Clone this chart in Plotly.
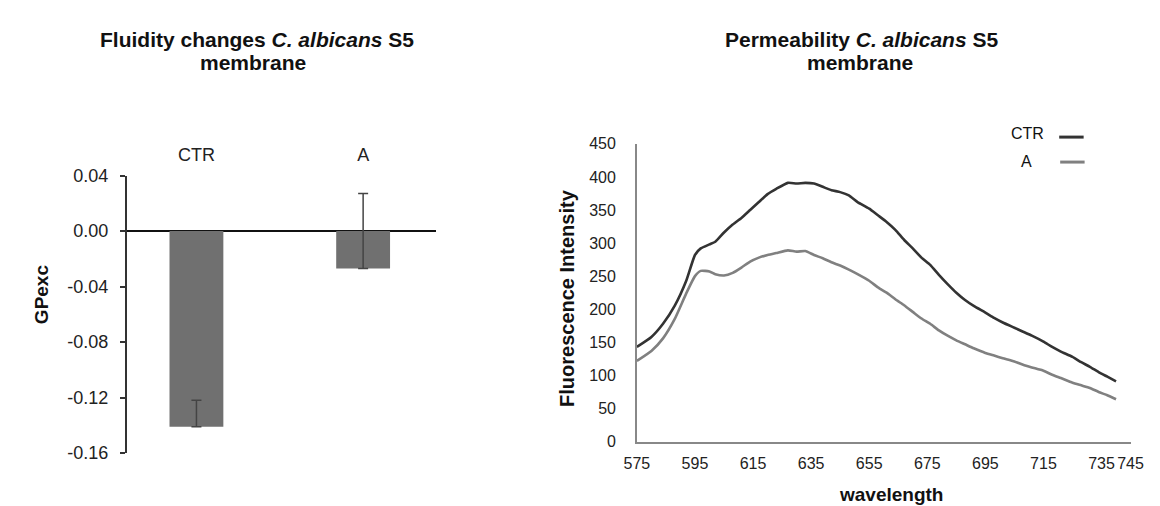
import plotly.graph_objects as go

W, H = 1160, 506
FONT = "Liberation Sans, Arial, sans-serif"

# ---- left chart data (GP exc) ----
groups = ["CTR", "A"]
gp_values = [-0.141, -0.027]
gp_err_plus = [0.019, 0.054]
gp_ticks = [0.04, 0.00, -0.04, -0.08, -0.12, -0.16]
gp_ticktext = ["0.04", "0.00", "-0.04", "-0.08", "-0.12", "-0.16"]

# ---- right chart data (emission spectra) ----
wavelength = [575, 580, 584, 588, 592, 595, 597, 600, 602, 605, 608, 611, 614, 617,
              620, 623, 627, 630, 633, 636, 639, 642, 645, 648, 651, 655, 658, 661,
              664, 667, 670, 673, 676, 679, 682, 685, 688, 691, 695, 698, 701, 705,
              708, 711, 715, 718, 721, 725, 728, 731, 734, 737, 740]
ctr_intensity = [143, 158, 178, 205, 243, 282, 292, 298, 302, 316, 328, 338, 350, 362,
                 374, 382, 391, 390, 391, 390, 385, 380, 377, 372, 362, 352, 342, 332,
                 320, 305, 292, 278, 267, 252, 238, 225, 214, 205, 195, 187, 180, 172,
                 166, 160, 151, 143, 136, 128, 120, 113, 105, 98, 91]
a_intensity = [122, 137, 156, 185, 224, 250, 258, 257, 253, 251, 255, 263, 272, 278,
               282, 285, 289, 287, 288, 282, 277, 271, 266, 260, 253, 243, 233, 225,
               215, 206, 196, 186, 178, 168, 160, 153, 147, 141, 134, 130, 126, 121,
               116, 112, 107, 101, 96, 89, 85, 81, 75, 70, 64]
wl_ticks = [575, 595, 615, 635, 655, 675, 695, 715, 735, 745]

fig = go.Figure()

fig.add_trace(go.Bar(
    x=[0, 1], y=gp_values, width=0.323,
    marker=dict(color="#707070", line=dict(width=0)),
    error_y=dict(type="data", symmetric=False, array=gp_err_plus, arrayminus=[0, 0],
                 color="#444444", thickness=1.5, width=5),
    xaxis="x", yaxis="y", showlegend=False, hoverinfo="y",
))

fig.add_trace(go.Scatter(
    x=wavelength, y=ctr_intensity, mode="lines", name="CTR",
    line=dict(color="#333333", width=2.6, shape="spline", smoothing=0.5),
    xaxis="x2", yaxis="y2", showlegend=False,
))
fig.add_trace(go.Scatter(
    x=wavelength, y=a_intensity, mode="lines", name="A",
    line=dict(color="#808080", width=2.6, shape="spline", smoothing=0.5),
    xaxis="x2", yaxis="y2", showlegend=False,
))

def px_x(p):
    return p / W

def px_y(p):
    return 1 - p / H

fig.update_layout(
    width=W, height=H, margin=dict(l=0, r=0, t=0, b=0),
    paper_bgcolor="white", plot_bgcolor="white",
    font=dict(family=FONT, color="#222222"),
    xaxis=dict(
        domain=[px_x(108), px_x(425)], range=[-0.419, 1.44],
        side="top", anchor="y", tickvals=[0, 1], ticktext=groups,
        showline=False, ticks="", showgrid=False, zeroline=False,
        tickfont=dict(size=18, color="#222222"), ticklabelstandoff=10,
    ),
    yaxis=dict(
        domain=[px_y(453), px_y(164)], range=[-0.16, 0.04], anchor="x",
        tickvals=gp_ticks, ticktext=gp_ticktext,
        showline=True, linecolor="#333333", linewidth=1.5,
        ticks="outside", ticklen=5, tickcolor="#333333", tickwidth=1.5,
        showgrid=False, zeroline=True, zerolinecolor="#111111", zerolinewidth=1.5,
        tickfont=dict(size=18, color="#222222"), ticklabelstandoff=8,
    ),
    xaxis2=dict(
        domain=[px_x(630), px_x(1135)], range=[575, 745], anchor="y2",
        tickvals=wl_ticks, ticktext=[str(v) for v in wl_ticks],
        showline=True, linecolor="#888888", linewidth=1.5,
        ticks="", showgrid=False, zeroline=False,
        tickfont=dict(size=16, color="#222222"), ticklabelstandoff=6,
    ),
    yaxis2=dict(
        domain=[px_y(441), px_y(131)], range=[0, 450], anchor="x2", dtick=50,
        showline=True, linecolor="#888888", linewidth=1.5,
        ticks="", showgrid=False, zeroline=False,
        tickfont=dict(size=16, color="#222222"), ticklabelstandoff=16,
    ),
)

ann = []
def text(x, y, s, size, angle=0):
    ann.append(dict(
        x=px_x(x), y=px_y(y), xref="paper", yref="paper", text=s, showarrow=False,
        xanchor="center", yanchor="middle", textangle=angle,
        font=dict(family=FONT, size=size, color="#111111"),
    ))

# titles
text(241, 22, "<b>Fluidity changes <i>C. albicans</i> S5</b>", 21)
text(237, 46, "<b>membrane</b>", 21)
text(860, 22, "<b>Permeability <i>C. albicans</i> S5</b>", 21)
text(858, 46, "<b>membrane</b>", 21)
# axis titles
text(21, 288, "<b>GPexc</b>", 19, angle=-90)
text(559, 291, "<b>Fluorescence Intensity</b>", 20, angle=-90)
text(890, 496, "<b>wavelength</b>", 19)
# legend
text(1030, 120, "CTR", 16)
text(1029, 149, "A", 16)

fig.update_layout(annotations=ann)

fig.add_shape(type="line", xref="paper", yref="paper",
              x0=px_x(1062), x1=px_x(1087), y0=px_y(124), y1=px_y(124),
              line=dict(color="#333333", width=3))
fig.add_shape(type="line", xref="paper", yref="paper",
              x0=px_x(1063), x1=px_x(1088), y0=px_y(150), y1=px_y(150),
              line=dict(color="#808080", width=3))

fig.write_html("out.html")
